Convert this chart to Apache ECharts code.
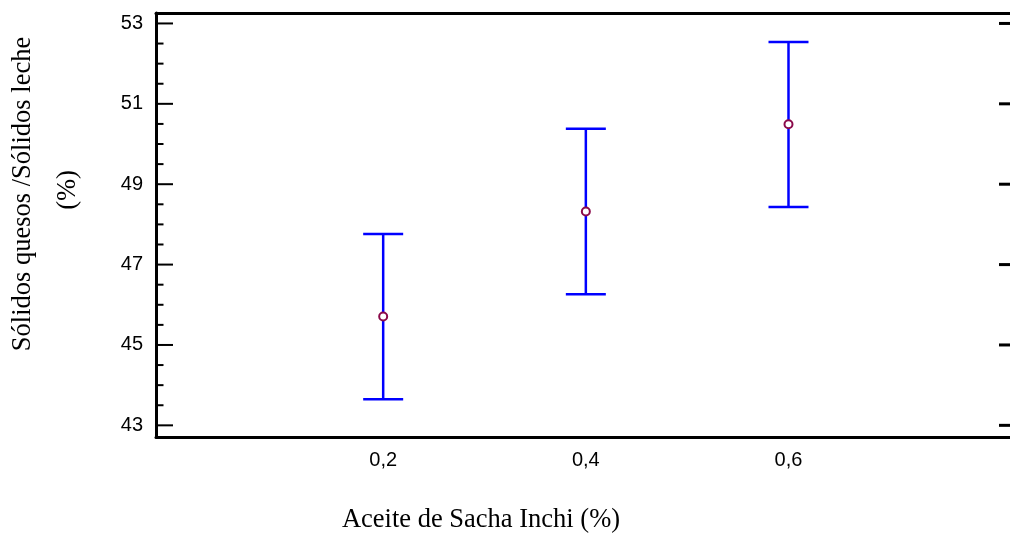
<!DOCTYPE html>
<html>
<head>
<meta charset="utf-8">
<script src="https://cdn.jsdelivr.net/npm/echarts@6/dist/echarts.min.js"></script>
<style>
html,body{margin:0;padding:0;background:#fff;}
#chart{width:1010px;height:536px;}
</style>
</head>
<body>
<div id="chart"></div>
<script>
const categories = [0.2, 0.4, 0.6];
const xTickLabels = ['0,2', '0,4', '0,6'];
const means = [45.71, 48.32, 50.49];
const lower = [43.65, 46.26, 48.43];
const upper = [47.76, 50.38, 52.54];
const yTicks = [43, 45, 47, 49, 51, 53];
const yMinorTicks = [43.5, 44, 44.5, 45.5, 46, 46.5, 47.5, 48, 48.5, 49.5, 50, 50.5, 51.5, 52, 52.5];
const xTitle = 'Aceite de Sacha Inchi (%)';
const yTitle = 'Sólidos quesos /Sólidos leche';
const yTitle2 = '(%)';

const chart = echarts.init(document.getElementById('chart'), null, {renderer: 'canvas'});

const errData = categories.map((c, i) => [c, lower[i], upper[i]]);
const meanData = categories.map((c, i) => [c, means[i]]);
// tick marks: [value, kind] kind 0 = left major, 1 = left minor, 2 = right major
const tickData = yTicks.map(v => [0, v, 0])
  .concat(yMinorTicks.map(v => [0, v, 1]))
  .concat(yTicks.map(v => [0, v, 2]));

const yMin = 42.71, yMax = 53.26;
const xMin = -0.0242, xMax = 0.8186;

const option = {
  animation: false,
  backgroundColor: '#fff',
  grid: {left: 156, right: -2, top: 13, bottom: 99, containLabel: false},
  xAxis: [
    {
      type: 'value', min: xMin, max: xMax, position: 'bottom',
      axisLine: {show: true, onZero: false, lineStyle: {color: '#000', width: 3}},
      axisTick: {show: false},
      splitLine: {show: false},
      axisLabel: {
        customValues: categories,
        formatter: function (v) {
          const idx = categories.findIndex(c => Math.abs(c - v) < 1e-6);
          return idx >= 0 ? xTickLabels[idx] : '';
        },
        fontFamily: 'Liberation Sans, Arial, sans-serif', fontSize: 20, color: '#000', margin: 13
      }
    },
    {
      type: 'value', min: xMin, max: xMax, position: 'top',
      axisLine: {show: true, onZero: false, lineStyle: {color: '#000', width: 3}},
      axisTick: {show: false}, axisLabel: {show: false}, splitLine: {show: false}
    }
  ],
  yAxis: [
    {
      type: 'value', min: yMin, max: yMax, position: 'left',
      axisLine: {show: true, onZero: false, lineStyle: {color: '#000', width: 3}},
      axisTick: {show: false},
      splitLine: {show: false},
      axisLabel: {customValues: yTicks, fontFamily: 'Liberation Sans, Arial, sans-serif', fontSize: 20, color: '#000', margin: 13}
    }
  ],
  graphic: [
    {
      type: 'text', x: 481, y: 520,
      style: {text: xTitle, font: '26.5px "Liberation Serif", "Times New Roman", serif', fill: '#000', textAlign: 'center', textVerticalAlign: 'middle'}
    },
    {
      type: 'text', x: 23, y: 194, rotation: Math.PI / 2,
      style: {text: yTitle, font: '26.5px "Liberation Serif", "Times New Roman", serif', fill: '#000', textAlign: 'center', textVerticalAlign: 'middle'}
    },
    {
      type: 'text', x: 68, y: 190, rotation: Math.PI / 2,
      style: {text: yTitle2, font: '26.5px "Liberation Serif", "Times New Roman", serif', fill: '#000', textAlign: 'center', textVerticalAlign: 'middle'}
    }
  ],
  series: [
    {
      type: 'custom',
      xAxisIndex: 0, yAxisIndex: 0,
      data: tickData,
      encode: {y: 1},
      silent: true,
      clip: false,
      renderItem: function (params, api) {
        const cs = params.coordSys;
        const y = api.coord([xMin, api.value(1)])[1];
        const kind = api.value(2);
        let x1, x2, w;
        if (kind === 0) { x1 = cs.x; x2 = cs.x + 17; w = 2; }
        else if (kind === 1) { x1 = cs.x; x2 = cs.x + 7.5; w = 2; }
        else { x1 = cs.x + cs.width - 11; x2 = cs.x + cs.width; w = 3; }
        return {type: 'line', shape: {x1: x1, y1: y, x2: x2, y2: y}, style: {stroke: '#000', lineWidth: w}};
      },
      z: 1
    },
    {
      type: 'custom',
      xAxisIndex: 0, yAxisIndex: 0,
      data: errData,
      encode: {x: 0, y: [1, 2]},
      renderItem: function (params, api) {
        const x = api.value(0);
        const lo = api.coord([x, api.value(1)]);
        const hi = api.coord([x, api.value(2)]);
        const hw = 20;
        const st = {stroke: '#0000ff', lineWidth: 2.5};
        return {
          type: 'group',
          children: [
            {type: 'line', shape: {x1: lo[0], y1: lo[1], x2: hi[0], y2: hi[1]}, style: st},
            {type: 'line', shape: {x1: lo[0] - hw, y1: lo[1], x2: lo[0] + hw, y2: lo[1]}, style: st},
            {type: 'line', shape: {x1: hi[0] - hw, y1: hi[1], x2: hi[0] + hw, y2: hi[1]}, style: st}
          ]
        };
      },
      z: 2
    },
    {
      type: 'scatter',
      xAxisIndex: 0, yAxisIndex: 0,
      data: meanData,
      symbol: 'circle',
      symbolSize: 8,
      itemStyle: {color: '#ffffff', borderColor: '#8a0a4a', borderWidth: 2, opacity: 1},
      z: 3
    }
  ]
};
chart.setOption(option);
</script>
</body>
</html>
